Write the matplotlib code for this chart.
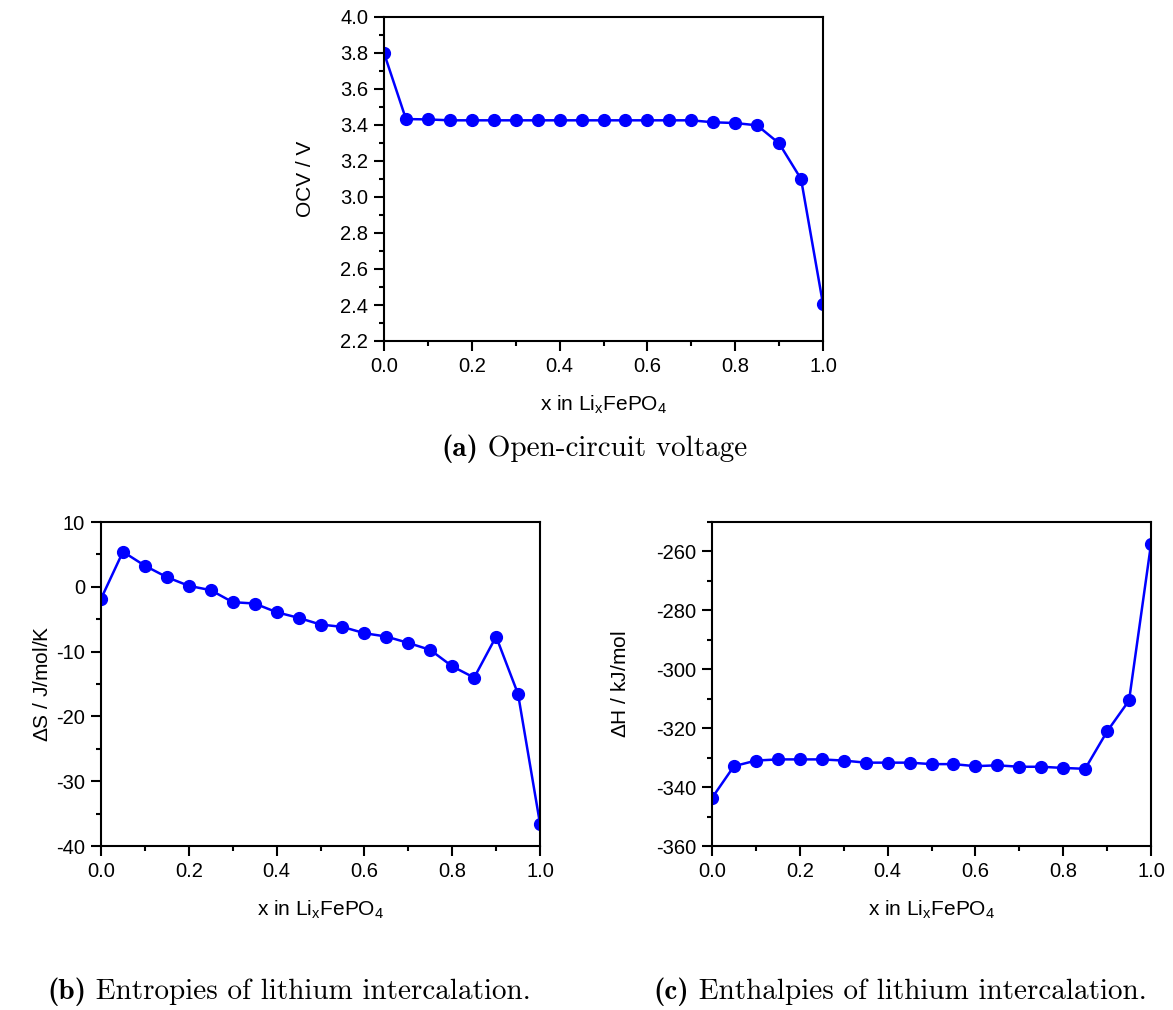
import numpy as np
import matplotlib
matplotlib.use('Agg')
import matplotlib.pyplot as plt
from matplotlib.ticker import MultipleLocator

plt.rcParams['font.family'] = 'Liberation Sans'
plt.rcParams['mathtext.fontset'] = 'custom'
plt.rcParams['mathtext.rm'] = 'Liberation Sans'
plt.rcParams['axes.unicode_minus'] = False

# composition x in LixFePO4
x = [0.0, 0.05, 0.1, 0.15, 0.2, 0.25, 0.3, 0.35, 0.4, 0.45, 0.5,
     0.55, 0.6, 0.65, 0.7, 0.75, 0.8, 0.85, 0.9, 0.95, 1.0]

# open-circuit voltage (V)
ocv = [3.80, 3.433, 3.431, 3.426, 3.426, 3.426, 3.426, 3.426, 3.426, 3.426, 3.426,
       3.426, 3.426, 3.426, 3.426, 3.415, 3.411, 3.398, 3.298, 3.10, 2.405]

# entropy of lithium intercalation (J/mol/K)
dS = [-1.86, 5.41, 3.25, 1.49, 0.15, -0.52, -2.37, -2.58, -3.92, -4.79, -5.82,
      -6.19, -7.16, -7.68, -8.66, -9.74, -12.27, -14.02, -7.68, -16.55, -36.55]

# enthalpy of lithium intercalation (kJ/mol)
dH = [-343.7, -332.9, -331.0, -330.6, -330.6, -330.6, -331.0, -331.7, -331.7, -331.7, -332.2,
      -332.2, -332.9, -332.6, -333.1, -333.1, -333.5, -333.8, -321.1, -310.6, -257.5]

xlabel = r'x in Li$_\mathregular{x}$FePO$_\mathregular{4}$'

W, H = 1173, 1010
AW, AH = 439, 324
fig = plt.figure(figsize=(W / 100, H / 100), dpi=100)


def make_axes(left, top, ylim, ymajor, ylabel, yfmt, ylab_x):
    ax = fig.add_axes([left / W, 1 - (top + AH) / H, AW / W, AH / H])
    ax.set_xlim(0, 1)
    ax.set_ylim(*ylim)
    ax.xaxis.set_major_locator(MultipleLocator(0.2))
    ax.xaxis.set_minor_locator(MultipleLocator(0.1))
    ax.yaxis.set_major_locator(MultipleLocator(ymajor))
    ax.yaxis.set_minor_locator(MultipleLocator(ymajor / 2))
    ax.xaxis.set_major_formatter(lambda v, p: f'{v:.1f}')
    ax.yaxis.set_major_formatter(lambda v, p: yfmt.format(v))
    ax.tick_params(which='both', direction='out', top=False, right=False,
                   width=1.5, labelsize=14.5, pad=4)
    ax.tick_params(which='major', length=7.5)
    ax.tick_params(which='minor', length=3.5)
    for s in ax.spines.values():
        s.set_linewidth(1.5)
    ax.set_xlabel(xlabel, fontsize=15, va='center')
    ax.xaxis.set_label_coords(0.5, -64 / AH)
    ax.set_ylabel(ylabel, fontsize=15, va='center')
    ax.yaxis.set_label_coords((ylab_x - left) / AW, 0.5)
    return ax


def plot_series(ax, y):
    ax.plot(x, y, color='#0000ff', lw=1.8, marker='o', ms=8.5, mec='#0000ff', mfc='#0000ff')


ax_a = make_axes(384, 17, (2.2, 4.0), 0.2, 'OCV / V', '{:.1f}', 305)
plot_series(ax_a, ocv)

ax_b = make_axes(101, 522, (-40, 10), 10, r'$\Delta$S / J/mol/K', '{:.0f}', 43)
plot_series(ax_b, dS)

ax_c = make_axes(712, 522, (-360, -250), 20, r'$\Delta$H / kJ/mol', '{:.0f}', 620)
ax_c.set_yticks([-360, -340, -320, -300, -280, -260])
plot_series(ax_c, dH)


# sub-figure captions: bold tag followed by regular text
def caption(cx, cy, tag, text, size=21):
    r = fig.canvas.get_renderer()
    t1 = fig.text(0, 1 - cy / H, tag, fontfamily='cmb10', fontsize=size, va='center')
    t2 = fig.text(0, 1 - cy / H, ' ' + text, fontfamily='cmr10', fontsize=size, va='center')
    w1 = t1.get_window_extent(r).width
    w2 = t2.get_window_extent(r).width
    x0 = cx - (w1 + w2) / 2
    t1.set_x(x0 / W)
    t2.set_x((x0 + w1) / W)


caption(594, 449, '(a)', 'Open-circuit voltage')
caption(289, 992, '(b)', 'Entropies of lithium intercalation.')
caption(900, 992, '(c)', 'Enthalpies of lithium intercalation.')

fig.savefig('out.png', dpi=100)
